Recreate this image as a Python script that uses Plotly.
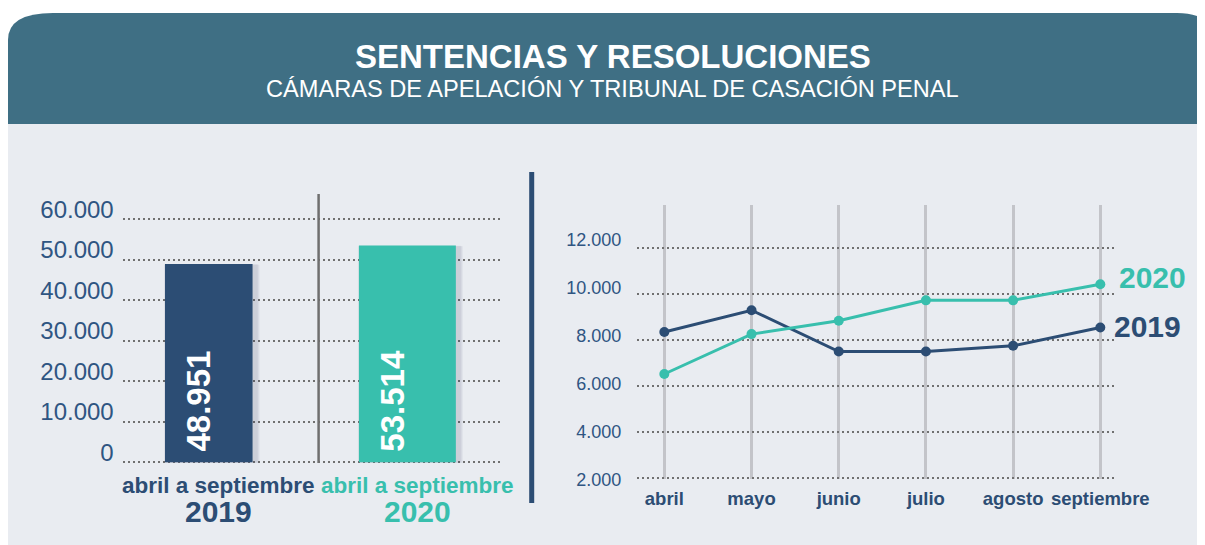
import plotly.graph_objects as go

# The page body adds an 8px margin, so the figure is sized to fill the
# remaining 1197x537 area of the 1205x545 window.
OFF = 8
W, H = 1205 - OFF, 545 - OFF

# ---------------- data ----------------
bar_categories = ["2019", "2020"]
bar_values = [48951, 53514]
bar_value_labels = ["48.951", "53.514"]
bar_colors = ["#2c4d74", "#38bfad"]
bar_caption = "abril a septiembre"

months = ["abril", "mayo", "junio", "julio", "agosto", "septiembre"]
series_2019 = [8350, 9300, 7500, 7500, 7750, 8550]
series_2020 = [6520, 8260, 8840, 9730, 9730, 10430]
series_names = ["2019", "2020"]

left_tickvals = [0, 10000, 20000, 30000, 40000, 50000, 60000]
left_ticktext = ["0", "10.000", "20.000", "30.000", "40.000", "50.000", "60.000"]
right_tickvals = [2000, 4000, 6000, 8000, 10000, 12000]
right_ticktext = ["2.000", "4.000", "6.000", "8.000", "10.000", "12.000"]

title = "SENTENCIAS Y RESOLUCIONES"
subtitle = "CÁMARAS DE APELACIÓN Y TRIBUNAL DE CASACIÓN PENAL"

# ---------------- style ----------------
NAVY = "#2c4d74"
TEAL = "#38bfad"
HEADER = "#3f6f84"
BG = "#e9ecf1"
TICK = "#2f5582"
FONT = "Liberation Sans"


def px(x):
    """window pixel x -> paper fraction"""
    return (x - OFF) / W


def py(y):
    """window pixel y -> paper fraction"""
    return 1 - (y - OFF) / H


fig = go.Figure()

# invisible carriers so the label-only axes are drawn (added first = bottom)
fig.add_trace(go.Scatter(x=[0], y=[None], xaxis="x3", yaxis="y3",
                         showlegend=False, hoverinfo="skip", mode="markers"))
fig.add_trace(go.Scatter(x=[0], y=[None], xaxis="x4", yaxis="y4",
                         showlegend=False, hoverinfo="skip", mode="markers"))

# bar shadows (soft, offset to the right)
bar_widths = [0.441, 0.488]
unit = 198.7  # pixels per category on the left chart
for i in range(1, 4):
    fig.add_trace(go.Bar(
        x=bar_categories, y=bar_values,
        base=[-60 * i] * 2,
        width=[w + (2 * i + 2) / unit for w in bar_widths],
        offset=[-w / 2 + (2 - i) / unit for w in bar_widths],
        marker=dict(color="rgba(40,45,70,0.05)", line=dict(width=0)),
        xaxis="x", yaxis="y", hoverinfo="skip", showlegend=False,
    ))

fig.add_trace(go.Bar(
    x=bar_categories, y=bar_values,
    width=bar_widths,
    marker=dict(color=bar_colors, line=dict(width=0)),
    xaxis="x", yaxis="y", showlegend=False,
))

fig.add_trace(go.Scatter(
    x=months, y=series_2019, mode="lines+markers", name=series_names[0],
    line=dict(color=NAVY, width=3), marker=dict(color=NAVY, size=10),
    xaxis="x2", yaxis="y2", showlegend=False,
))
fig.add_trace(go.Scatter(
    x=months, y=series_2020, mode="lines+markers", name=series_names[1],
    line=dict(color=TEAL, width=3), marker=dict(color=TEAL, size=10),
    xaxis="x2", yaxis="y2", showlegend=False,
))

dots = "2px,3px"

left_range = [-420, 60420]
right_range = [1943, 13887]
hidden_x = dict(visible=False, showgrid=False, zeroline=False, range=[0, 1],
                fixedrange=True, automargin=False)

fig.update_layout(
    width=W, height=H, autosize=False,
    margin=dict(l=0, r=0, t=0, b=0, pad=0, autoexpand=False),
    paper_bgcolor="white", plot_bgcolor="rgba(0,0,0,0)",
    barmode="overlay", hovermode=False,
    font=dict(family=FONT),
    xaxis=dict(
        domain=[px(122.7), px(500)], type="category",
        categoryorder="array", categoryarray=bar_categories,
        range=[-0.4333, 1.4663], showgrid=False, zeroline=False,
        showline=False, showticklabels=False, ticks="", fixedrange=True,
        automargin=False,
    ),
    yaxis=dict(
        domain=[py(464), py(217.6)], range=left_range,
        tickvals=left_tickvals, showticklabels=False, ticks="",
        showgrid=True, gridcolor="#707070", gridwidth=2, griddash=dots,
        zeroline=False, showline=False, fixedrange=True, automargin=False,
    ),
    # label axis: same scale, lifted ~10px (labels sit above their lines)
    xaxis3=dict(domain=[px(122.7), px(500)], anchor="y3", **hidden_x),
    yaxis3=dict(
        domain=[py(454), py(207.6)], anchor="x3", side="left",
        range=left_range,
        tickvals=left_tickvals, ticktext=left_ticktext,
        tickfont=dict(family=FONT, size=24, color=TICK),
        ticks="", ticklabelstandoff=8, showgrid=False,
        zeroline=False, showline=False, fixedrange=True, automargin=False,
    ),
    xaxis2=dict(
        domain=[px(637.3), px(1116.7)], type="category",
        categoryorder="array", categoryarray=months,
        range=[-0.31, 5.188], anchor="y2",
        tickfont=dict(family=FONT, size=18.5, color=NAVY, weight="bold"),
        ticks="", ticklabelstandoff=6,
        showgrid=True, gridcolor="#c3c4c9", gridwidth=3,
        zeroline=False, showline=False, fixedrange=True, automargin=False,
    ),
    yaxis2=dict(
        domain=[py(479), py(205)], range=right_range, anchor="x2",
        tickvals=right_tickvals, showticklabels=False, ticks="",
        showgrid=True, gridcolor="#707070", gridwidth=2, griddash=dots,
        zeroline=False, showline=False, fixedrange=True, automargin=False,
    ),
    # label axis for the right panel (labels evenly spaced as in the original)
    xaxis4=dict(domain=[px(637.3), px(1116.7)], anchor="y4", **hidden_x),
    yaxis4=dict(
        domain=[py(482.4), py(237.6)], anchor="x4", side="left",
        range=[1900, 12100],
        tickvals=right_tickvals, ticktext=right_ticktext,
        tickfont=dict(family=FONT, size=18, color=TICK),
        ticks="", ticklabelstandoff=15, showgrid=False,
        zeroline=False, showline=False, fixedrange=True, automargin=False,
    ),
)

shapes = []
# light panel background
shapes.append(dict(type="rect", xref="paper", yref="paper",
                   x0=px(8), x1=px(1215), y0=py(550), y1=py(123),
                   fillcolor=BG, line=dict(width=0), layer="below"))
# header band with rounded top corners
path = (f"M {px(8)},{py(124)} L {px(8)},{py(40)} "
        f"Q {px(8)},{py(13)} {px(53)},{py(13)} "
        f"L {px(1177)},{py(13)} "
        f"Q {px(1222)},{py(13)} {px(1222)},{py(58)} "
        f"L {px(1222)},{py(124)} Z")
shapes.append(dict(type="path", xref="paper", yref="paper", path=path,
                   fillcolor=HEADER, line=dict(width=0), layer="below"))
# separator between the two bars
shapes.append(dict(type="line", xref="x", yref="paper",
                   x0=0.553, x1=0.553, y0=py(463), y1=py(194),
                   line=dict(color="#6f6f6f", width=2.5), layer="above"))
# vertical divider between panels
shapes.append(dict(type="line", xref="paper", yref="paper",
                   x0=px(531.7), x1=px(531.7), y0=py(503), y1=py(172),
                   line=dict(color=NAVY, width=5), layer="above"))
fig.update_layout(shapes=shapes)

ann = []
ann.append(dict(text=f"<b>{title}</b>", xref="paper", yref="paper",
                x=px(613), y=py(56), xanchor="center", yanchor="middle",
                showarrow=False, font=dict(family=FONT, size=33, color="white")))
ann.append(dict(text=subtitle, xref="paper", yref="paper",
                x=px(612), y=py(89), xanchor="center", yanchor="middle",
                showarrow=False, font=dict(family=FONT, size=23.6, color="white")))

value_xshift = [-10, -15]
for idx, (cat, lab, col, xs) in enumerate(zip(bar_categories, bar_value_labels,
                                               bar_colors, value_xshift)):
    ann.append(dict(text=f"<b>{lab}</b>", xref="x", yref="y", x=idx, y=0,
                    xanchor="center", yanchor="bottom", yshift=9, xshift=xs,
                    textangle=-90, showarrow=False,
                    font=dict(family=FONT, size=33, color="white")))
    ann.append(dict(text=f"<b>{bar_caption}</b>", xref="x", yref="paper",
                    x=idx, y=py(485), xanchor="center", yanchor="middle",
                    xshift=10, showarrow=False,
                    font=dict(family=FONT, size=22.5, color=col)))
    ann.append(dict(text=f"<b>{cat}</b>", xref="x", yref="paper",
                    x=idx, y=py(511), xanchor="center", yanchor="middle",
                    xshift=10, showarrow=False,
                    font=dict(family=FONT, size=30, color=col)))

for name, ser, col, xs, ys in [(series_names[1], series_2020, TEAL, 17, 7),
                               (series_names[0], series_2019, NAVY, 12, 1)]:
    ann.append(dict(text=f"<b>{name}</b>", xref="x2", yref="y2",
                    x=len(months) - 1, y=ser[-1], xanchor="left", yanchor="middle",
                    xshift=xs, yshift=ys, showarrow=False,
                    font=dict(family=FONT, size=30, color=col)))

fig.update_layout(annotations=ann)

fig.write_html("out.html")
